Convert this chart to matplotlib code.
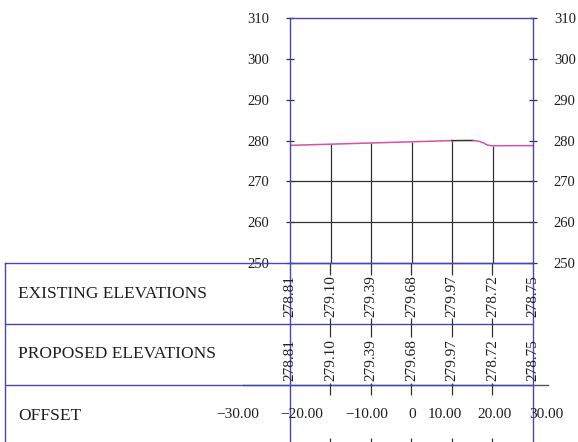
import matplotlib.pyplot as plt
import matplotlib.transforms as mtransforms

# section data
offsets = [-30, -20, -10, 0, 10, 20, 30]
existing = [278.81, 279.10, 279.39, 279.68, 279.97, 278.72, 278.75]
proposed = [278.81, 279.10, 279.39, 279.68, 279.97, 278.72, 278.75]
offset_labels = ['−30.00', '−20.00', '−10.00', '0', '10.00', '20.00', '30.00']
row_names = ['EXISTING ELEVATIONS', 'PROPOSED ELEVATIONS', 'OFFSET']

# ground line as drawn in the section
line_x = [-30, -20, -10, 0, 10]
line_y = [278.81, 279.10, 279.39, 279.68, 279.97]
hump_x = [10, 15.2]
hump_y = [279.97, 280.0]
drop_x = [15.2, 16.5, 17.8, 18.8, 20, 30]
drop_y = [280.0, 279.85, 279.4, 278.85, 278.72, 278.75]

yticks = [250, 260, 270, 280, 290, 300, 310]

blue = '#4646b4'
dark = '#333333'
pink = '#d452a8'
txt = '#1e1e1e'
font = 'Liberation Serif'

W, H = 578, 442
fig = plt.figure(figsize=(W / 100, H / 100), dpi=100)

# ---- profile ----
ax = fig.add_axes([290 / W, 1 - 263 / H, 243 / W, 245 / H])
ax.set_xlim(-30, 30)
ax.set_ylim(250, 310)
for s in ax.spines.values():
    s.set_color(blue)
    s.set_linewidth(1.0)
ax.set_xticks([])
ax.set_yticks(yticks)
ax.tick_params(axis='y', direction='inout', length=6, width=0.9, color=dark,
               left=True, right=True, labelleft=True, labelright=True, pad=12)
for lab in ax.get_yticklabels():
    lab.set_fontfamily(font)
    lab.set_fontsize(10.5)
    lab.set_color(txt)

ax.hlines([260, 270], -30, 30, color=dark, lw=0.9)
ax.vlines(offsets[1:-1], 250, existing[1:-1], color=dark, lw=0.9)
ax.plot(line_x, line_y, color=pink, lw=1.1)
ax.plot(hump_x, hump_y, color=dark, lw=1.1)
ax.plot(drop_x, drop_y, color=pink, lw=1.1)

# ---- table ----
xl = -30 - 285 * 60 / 243
tab = fig.add_axes([5 / W, 1 - 446 / H, 528 / W, 183 / H])
tab.set_xlim(xl, 30)
tab.set_ylim(3, 0)
tab.set_xticks([])
tab.set_yticks([])
tab.patch.set_visible(False)
for s in tab.spines.values():
    s.set_color(blue)
    s.set_linewidth(1.0)

tab.plot([-41.6, 33.7], [2, 2], color='#555555', lw=1.0, clip_on=False, zorder=1)
tab.axhline(1, color=blue, lw=1.0, zorder=2)
tab.axhline(2, color=blue, lw=1.0, zorder=2)
tab.axvline(-30, color=blue, lw=1.0, zorder=2)

lt = mtransforms.blended_transform_factory(tab.transAxes, tab.transData)
for i, name in enumerate(row_names):
    tab.text(0.025, i + 0.5, name, transform=lt, ha='left', va='center',
             family=font, fontsize=12.5, color=txt)

for x, e, p in zip(offsets, existing, proposed):
    tab.text(x, 0.55, f'{e:.2f}', rotation=90, ha='center', va='center',
             family=font, fontsize=11, color=txt, zorder=3)
    tab.text(x, 1.59, f'{p:.2f}', rotation=90, ha='center', va='center',
             family=font, fontsize=11, color=txt, zorder=3)

seg_lo = [0, 0.9, 1, 1.97, 2, 2.87]
seg_hi = [0.2, 1, 1.21, 2, 2.16, 3]
for x in offsets[1:-1]:
    tab.vlines([x] * len(seg_lo), seg_lo, seg_hi, color=dark, lw=0.9)

label_shift = [-12.8, -7.0, -1.0, 0.1, -1.7, 0.4, 3.2]
for x, s, lab in zip(offsets, label_shift, offset_labels):
    tab.text(x + s, 2.49, lab, ha='center', va='center', family=font,
             fontsize=11, color=txt, clip_on=False)

fig.savefig('out.png', dpi=100)
